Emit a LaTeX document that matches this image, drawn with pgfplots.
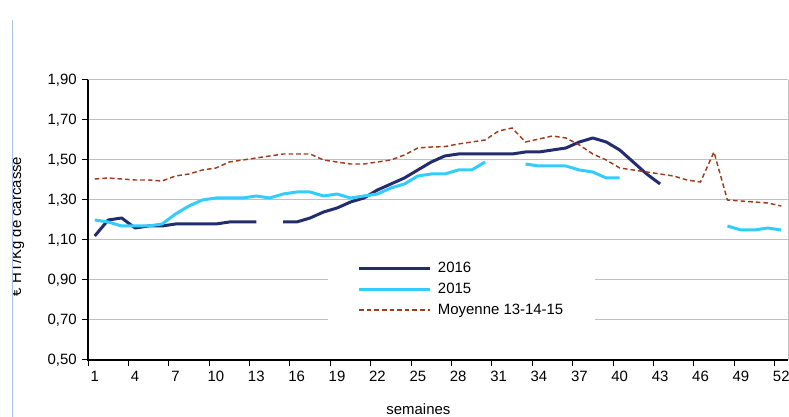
\documentclass[border=0pt]{standalone}
\usepackage{fontspec}
\setmainfont{Liberation Sans}
\usepackage{pgfplots}
\pgfplotsset{compat=1.18}

\definecolor{c2016}{RGB}{35,45,110}
\definecolor{c2015}{RGB}{51,204,255}
\definecolor{cmoy}{RGB}{160,60,30}
\definecolor{gridgray}{RGB}{192,192,192}
\definecolor{framecol}{RGB}{170,195,225}

\newcommand{\chartfont}{\fontsize{11.2}{13.4}\selectfont}

\begin{document}
\chartfont
\begin{tikzpicture}
% one pixel of the 789x417 reference = 0.75pt
\useasboundingbox (0pt,0pt) rectangle (591.75pt,312.75pt);
\draw[framecol, line width=0.75pt] (9.4pt,0pt) -- (9.4pt,297.75pt);
\begin{scope}
  \clip (9.75pt,0pt) rectangle (45pt,312.75pt);
  \node[rotate=90, anchor=base, inner sep=0pt, font=\chartfont] at (15.75pt,142.9pt) {€ HT/Kg de carcasse};
\end{scope}

\begin{axis}[
  at={(66pt,42.75pt)}, anchor=south west,
  scale only axis,
  width=525pt, height=210pt,
  xmin=0.5, xmax=52.5,
  ymin=0.5, ymax=1.9,
  axis line style={draw=none},
  xtick pos=bottom, ytick pos=left,
  tick align=outside,
  major tick length=4.5pt,
  tick style={black, line width=0.75pt},
  ytick={0.5,0.7,0.9,1.1,1.3,1.5,1.7,1.9},
  yticklabel style={/pgf/number format/.cd, fixed, fixed zerofill, precision=2, use comma},
  /pgf/number format/assume math mode=true,
  xtick={0.5,3.5,...,51.5},
  xticklabels={1,4,7,10,13,16,19,22,25,28,31,34,37,40,43,46,49,52},
  xticklabel style={xshift=5.05pt},
  every tick label/.append style={font=\chartfont},
  ymajorgrids,
  grid style={gridgray, line width=0.75pt},
  xlabel={semaines},
  xlabel style={at={(axis description cs:0.472,0)}, anchor=center, yshift=-36.75pt, font=\chartfont},
  unbounded coords=jump,
  legend cell align=left,
  legend style={at={(axis description cs:0.534,0.2518)}, anchor=center,
    draw=none, fill=white, inner xsep=22pt, inner ysep=7pt,
    font=\chartfont, row sep=2pt, column sep=3pt},
  legend image code/.code={\draw[#1] (0pt,0pt) -- (53pt,0pt);},
  clip=false
]

\addplot[c2016, line width=2.25pt, line join=round] coordinates {
(1,1.12) (2,1.20) (3,1.21) (4,1.16) (5,1.17) (6,1.17) (7,1.18) (8,1.18)
(9,1.18) (10,1.18) (11,1.19) (12,1.19) (13,1.19) (14,nan) (15,1.19) (16,1.19)
(17,1.21) (18,1.24) (19,1.26) (20,1.29) (21,1.31) (22,1.35) (23,1.38) (24,1.41)
(25,1.45) (26,1.49) (27,1.52) (28,1.53) (29,1.53) (30,1.53) (31,1.53) (32,1.53)
(33,1.54) (34,1.54) (35,1.55) (36,1.56) (37,1.59) (38,1.61) (39,1.59) (40,1.55)
(41,1.49) (42,1.43) (43,1.38)
};
\addlegendentry{2016}

\addplot[c2015, line width=2.25pt, line join=round] coordinates {
(1,1.20) (2,1.19) (3,1.17) (4,1.17) (5,1.17) (6,1.18) (7,1.23) (8,1.27)
(9,1.30) (10,1.31) (11,1.31) (12,1.31) (13,1.32) (14,1.31) (15,1.33) (16,1.34)
(17,1.34) (18,1.32) (19,1.33) (20,1.31) (21,1.32) (22,1.33) (23,1.36) (24,1.38)
(25,1.42) (26,1.43) (27,1.43) (28,1.45) (29,1.45) (30,1.49) (31,nan) (32,nan)
(33,1.48) (34,1.47) (35,1.47) (36,1.47) (37,1.45) (38,1.44) (39,1.41) (40,1.41)
(41,nan) (47,nan)
(48,1.17) (49,1.15) (50,1.15) (51,1.16) (52,1.15)
};
\addlegendentry{2015}

\addplot[cmoy, line width=1.1pt, dash pattern=on 3.5pt off 2.2pt] coordinates {
(1,1.405) (2,1.41) (3,1.405) (4,1.40) (5,1.40) (6,1.395) (7,1.42) (8,1.43)
(9,1.45) (10,1.46) (11,1.49) (12,1.50) (13,1.51) (14,1.52) (15,1.53) (16,1.53)
(17,1.53) (18,1.50) (19,1.49) (20,1.48) (21,1.48) (22,1.49) (23,1.50) (24,1.525)
(25,1.56) (26,1.565) (27,1.567) (28,1.58) (29,1.59) (30,1.60) (31,1.645) (32,1.66)
(33,1.59) (34,1.605) (35,1.62) (36,1.61) (37,1.575) (38,1.53) (39,1.50) (40,1.46)
(41,1.45) (42,1.44) (43,1.43) (44,1.42) (45,1.40) (46,1.39) (47,1.54) (48,1.30)
(49,1.295) (50,1.29) (51,1.285) (52,1.27)
};
\addlegendentry{Moyenne 13-14-15}

\draw[black, line width=0.9pt] (rel axis cs:0,1) -- (rel axis cs:0,0) -- (rel axis cs:1,0);
\draw[gridgray, line width=0.75pt] (rel axis cs:1,0) -- (rel axis cs:1,1);
\end{axis}
\end{tikzpicture}
\end{document}
